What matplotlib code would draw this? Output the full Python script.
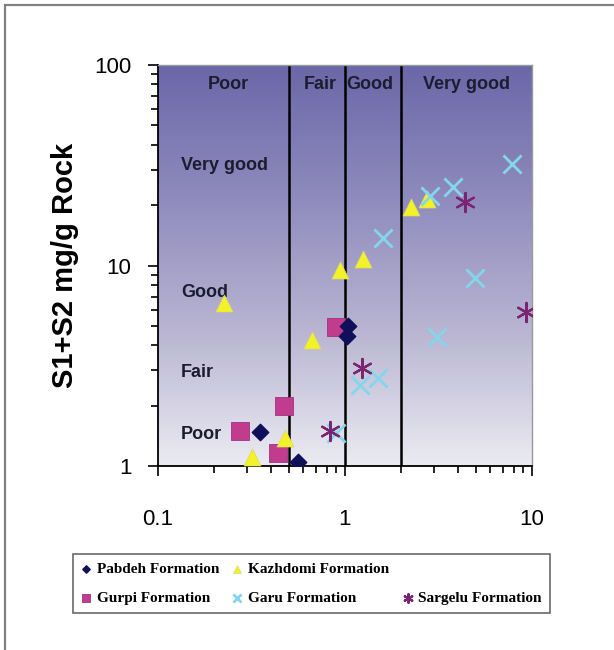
import numpy as np
import matplotlib.pyplot as plt
from matplotlib.colors import LinearSegmentedColormap
from matplotlib.lines import Line2D
from matplotlib.patches import Rectangle

# S1+S2 vs classification plot, one array pair per formation
pabdeh_x = [1.04, 1.02, 0.35, 0.56]
pabdeh_y = [5.0, 4.45, 1.48, 1.05]

gurpi_x = [0.9, 0.47, 0.275, 0.44]
gurpi_y = [4.95, 2.0, 1.5, 1.16]

kazhdomi_x = [0.225, 0.94, 1.25, 2.25, 2.75, 0.67, 0.48, 0.32]
kazhdomi_y = [6.5, 9.5, 10.8, 19.5, 21.5, 4.25, 1.38, 1.11]

garu_x = [7.8, 3.8, 2.85, 1.6, 4.95, 3.1, 1.2, 1.5, 0.9]
garu_y = [32.0, 24.5, 22.3, 13.7, 8.7, 4.4, 2.55, 2.75, 1.46]

sargelu_x = [4.4, 9.3, 1.23, 0.83]
sargelu_y = [20.7, 5.85, 3.1, 1.5]

class_bounds = [0.5, 1, 2]
class_names = ["Poor", "Fair", "Good", "Very good"]

fig = plt.figure(figsize=(6.14, 6.5), dpi=100)
fig.patch.set_facecolor("white")
fig.add_artist(Rectangle((0.008, -0.1), 1.2, 1.092, transform=fig.transFigure,
                         fill=False, edgecolor="#808080", lw=1.6))

ax = fig.add_axes([0.2573, 0.283, 0.609, 0.617])
ax.set_xscale("log")
ax.set_yscale("log")
ax.set_xlim(0.1, 10)
ax.set_ylim(1, 100)

# purple-to-white background
cmap = LinearSegmentedColormap.from_list(
    "bg", ["#ebebf2", "#b9b5d2", "#8f8bbd", "#6a67a8"])
grad = np.linspace(0, 1, 256).reshape(-1, 1)
ax.imshow(grad, cmap=cmap, aspect="auto", origin="lower",
          extent=[0, 1, 0, 1], transform=ax.transAxes, zorder=0)

for b in class_bounds:
    ax.axvline(b, color="black", lw=1.8, zorder=2)

lab = dict(fontsize=13, fontweight="bold", color="#1c1c30",
           family="Liberation Sans", zorder=3)
for name, xc in zip(class_names, [0.237, 0.735, 1.36, 4.49]):
    ax.text(xc, 79.5, name, ha="center", va="center", **lab)
for name, yc in zip(class_names[::-1], [31.7, 7.3, 2.94, 1.43]):
    ax.text(0.133, yc, name, ha="left", va="center", **lab)

pab = ax.scatter(pabdeh_x, pabdeh_y, marker="D", s=70, color="#10105a",
                 zorder=5, label="Pabdeh Formation")
gur = ax.scatter(gurpi_x, gurpi_y, marker="s", s=150, color="#c23c8e",
                 edgecolor="#a03088", lw=0.6, zorder=4, label="Gurpi Formation")
kaz = ax.scatter(kazhdomi_x, kazhdomi_y, marker="^", s=150, color="#f2f226",
                 edgecolor="#d8d870", lw=0.5, zorder=4, label="Kazhdomi Formation")
gar = ax.scatter(garu_x, garu_y, marker="x", s=170, color="#84d6ea",
                 lw=2, zorder=4, label="Garu Formation")
sar = ax.scatter(sargelu_x, sargelu_y, marker=(6, 2, 0), s=190, color="#7a2570",
                 lw=1.6, zorder=5, label="Sargelu Formation")

ax.set_xticks([0.1, 1, 10], ["0.1", "1", "10"])
ax.set_yticks([1, 10, 100], ["1", "10", "100"])
ax.tick_params(which="major", direction="out", length=7, width=1.2,
               labelsize=16, pad=12)
ax.tick_params(which="minor", direction="out", length=5, width=1.2)
for t in ax.get_xticklabels() + ax.get_yticklabels():
    t.set_family("Liberation Sans")
ax.tick_params(axis="x", pad=24)

ax.spines["left"].set_linewidth(1.3)
ax.spines["bottom"].set_linewidth(1.3)
for s in ["top", "right"]:
    ax.spines[s].set_color("#9a9a9a")
    ax.spines[s].set_linewidth(1.0)

ax.set_ylabel("S1+S2 mg/g Rock", fontsize=21, fontweight="bold",
              family="Liberation Sans", labelpad=11)

blank = Line2D([], [], linestyle="none", marker=None)
handles = [pab, gur, kaz, gar, blank, sar]
labels = ["Pabdeh Formation", "Gurpi Formation", "Kazhdomi Formation",
          "Garu Formation", "", "Sargelu Formation"]
leg = fig.legend(handles, labels, ncol=3, loc="upper left",
                 bbox_to_anchor=(0.119, 0.1477), borderaxespad=0,
                 frameon=True, fancybox=False,
                 edgecolor="#444444", markerscale=0.45, handlelength=0.6,
                 handletextpad=0.4, columnspacing=0.9, labelspacing=1.0,
                 borderpad=0.55,
                 prop={"family": "Liberation Serif", "weight": "bold", "size": 11})
leg.get_frame().set_linewidth(1.2)

fig.savefig("out.png", dpi=100)
